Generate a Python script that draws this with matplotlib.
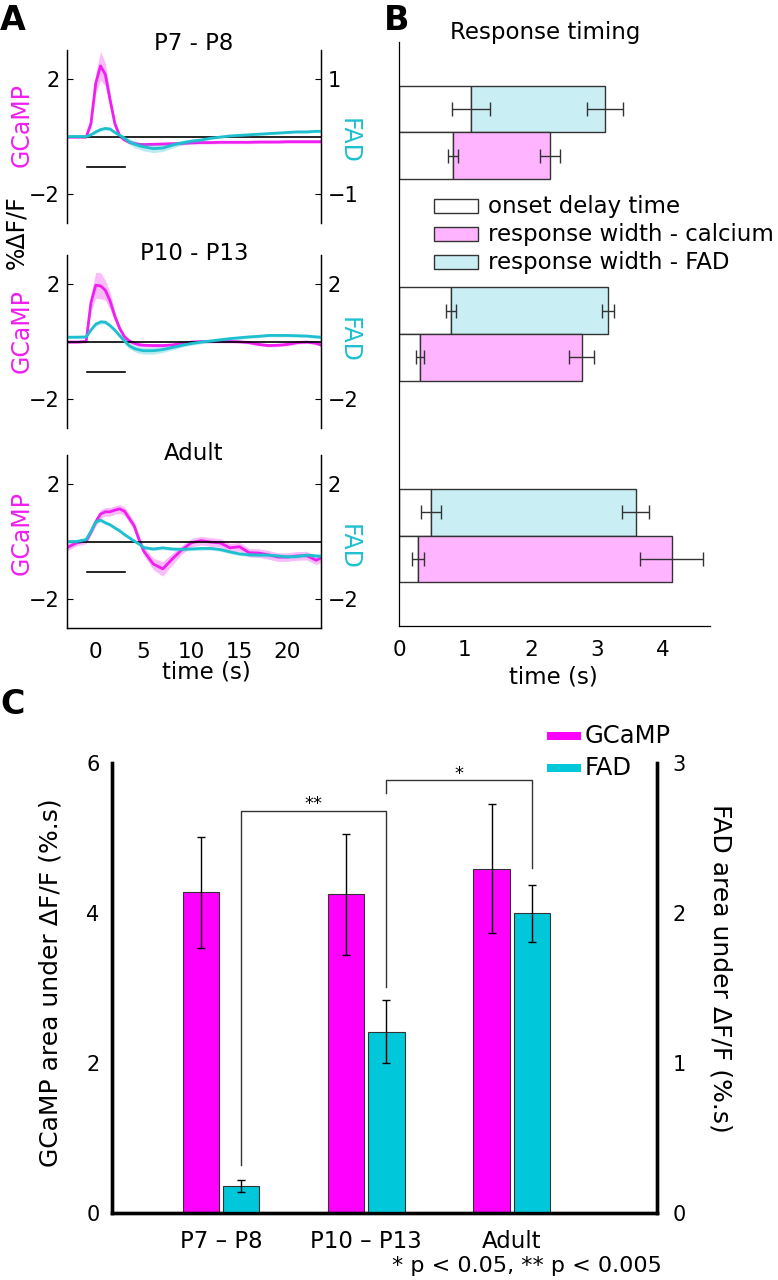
import numpy as np
import matplotlib
matplotlib.use('Agg')
import matplotlib.pyplot as plt
from matplotlib.patches import Rectangle

plt.rcParams['font.family'] = ['DejaVu Sans']
plt.rcParams['axes.linewidth'] = 0.9

# ---------------- data ----------------
# Panel A: mean traces (time in s), GCaMP on left axis, FAD on right axis
time_s = [-3, -2, -1, -0.5, 0, 0.5, 1, 1.5, 2, 2.5, 3, 3.5, 4, 4.5, 5,
          6, 7, 8, 9, 10, 11, 12, 13, 14, 15, 16, 17, 18, 19, 20, 21, 22, 23, 23.5]

gcamp_p7 = [-0.02, -0.02, -0.02, 0.45, 1.85, 2.45, 2.15, 1.26, 0.44, 0.02,
            -0.12, -0.2, -0.24, -0.27, -0.28,
            -0.27, -0.26, -0.25, -0.24, -0.22, -0.21, -0.21, -0.2, -0.2, -0.2,
            -0.2, -0.19, -0.19, -0.19, -0.18, -0.18, -0.18, -0.18, -0.18]
gcamp_p7_sem = [0.04, 0.04, 0.04, 0.15, 0.35, 0.5, 0.4, 0.25, 0.12, 0.08,
                0.06, 0.06, 0.06, 0.06, 0.06,
                0.05, 0.05, 0.05, 0.05, 0.05, 0.05, 0.05, 0.05, 0.05, 0.05,
                0.05, 0.05, 0.05, 0.05, 0.05, 0.05, 0.05, 0.05, 0.05]
fad_p7 = [0.0, 0.0, 0.0, 0.03, 0.08, 0.12, 0.14, 0.13, 0.07, 0.02,
          -0.03, -0.09, -0.13, -0.16, -0.18,
          -0.21, -0.2, -0.15, -0.11, -0.08, -0.06, -0.03, -0.01, 0.01, 0.02,
          0.03, 0.04, 0.05, 0.06, 0.07, 0.08, 0.08, 0.09, 0.09]
fad_p7_sem = [0.02, 0.02, 0.02, 0.02, 0.03, 0.03, 0.03, 0.03, 0.03, 0.03,
              0.04, 0.05, 0.06, 0.06, 0.07,
              0.07, 0.06, 0.05, 0.04, 0.03, 0.03, 0.02, 0.02, 0.02, 0.02,
              0.02, 0.02, 0.02, 0.02, 0.02, 0.02, 0.02, 0.02, 0.02]

gcamp_p10 = [-0.02, -0.02, 0.0, 1.35, 1.95, 1.93, 1.78, 1.4, 0.87, 0.45,
             0.16, 0.02, -0.06, -0.11, -0.13,
             -0.14, -0.14, -0.12, -0.07, -0.02, 0.0, 0.0, 0.0, 0.0, -0.01,
             -0.04, -0.1, -0.14, -0.13, -0.1, -0.04, -0.02, -0.06, -0.12]
gcamp_p10_sem = [0.05, 0.05, 0.05, 0.3, 0.45, 0.45, 0.35, 0.3, 0.15, 0.1,
                 0.08, 0.07, 0.06, 0.06, 0.06,
                 0.06, 0.06, 0.06, 0.05, 0.05, 0.05, 0.05, 0.05, 0.05, 0.05,
                 0.05, 0.05, 0.05, 0.05, 0.05, 0.05, 0.05, 0.05, 0.05]
fad_p10 = [0.15, 0.15, 0.16, 0.4, 0.6, 0.68, 0.67, 0.55, 0.39, 0.2,
           0.02, -0.15, -0.24, -0.29, -0.32,
           -0.32, -0.28, -0.21, -0.13, -0.07, -0.02, 0.02, 0.06, 0.1, 0.13,
           0.16, 0.18, 0.21, 0.21, 0.21, 0.2, 0.19, 0.16, 0.15]
fad_p10_sem = [0.05, 0.05, 0.05, 0.06, 0.07, 0.07, 0.07, 0.07, 0.07, 0.08,
               0.09, 0.1, 0.11, 0.12, 0.12,
               0.12, 0.1, 0.08, 0.07, 0.06, 0.06, 0.05, 0.05, 0.05, 0.05,
               0.05, 0.05, 0.05, 0.05, 0.05, 0.05, 0.05, 0.05, 0.05]

gcamp_adult = [-0.21, -0.05, 0.02, 0.33, 0.68, 0.95, 1.03, 1.03, 1.09, 1.13,
               1.05, 0.8, 0.55, 0.08, -0.33,
               -0.78, -0.95, -0.6, -0.28, -0.04, 0.03, -0.02, -0.05, -0.22, -0.18,
               -0.39, -0.4, -0.46, -0.54, -0.54, -0.5, -0.49, -0.65, -0.57]
gcamp_adult_sem = [0.12, 0.1, 0.1, 0.12, 0.15, 0.15, 0.15, 0.15, 0.15, 0.15,
                   0.15, 0.15, 0.15, 0.15, 0.15,
                   0.2, 0.25, 0.2, 0.15, 0.15, 0.15, 0.15, 0.15, 0.15, 0.15,
                   0.15, 0.15, 0.15, 0.15, 0.15, 0.15, 0.15, 0.15, 0.15]
fad_adult = [0.0, 0.0, 0.07, 0.35, 0.68, 0.74, 0.65, 0.58, 0.47, 0.37,
             0.24, 0.13, 0.02, -0.08, -0.21,
             -0.26, -0.22, -0.26, -0.27, -0.26, -0.24, -0.24, -0.28, -0.36, -0.43,
             -0.46, -0.47, -0.47, -0.5, -0.53, -0.52, -0.47, -0.5, -0.51]
fad_adult_sem = [0.06, 0.06, 0.06, 0.06, 0.06, 0.06, 0.06, 0.06, 0.06, 0.06,
                 0.06, 0.06, 0.06, 0.06, 0.06,
                 0.06, 0.06, 0.06, 0.06, 0.06, 0.06, 0.06, 0.06, 0.06, 0.06,
                 0.06, 0.06, 0.06, 0.06, 0.06, 0.06, 0.06, 0.06, 0.06]

age_titles = ['P7 - P8', 'P10 - P13', 'Adult']
fad_limits = [1.5, 3, 3]
fad_ticks = [[-1, 1], [-2, 2], [-2, 2]]
stim_window = [-0.9, 3.1]

# Panel B: response timing (s), groups top to bottom
onset_ca = [0.82, 0.315, 0.29]
onset_ca_err = [0.08, 0.06, 0.09]
width_ca = [1.47, 2.455, 3.85]
width_ca_err = [0.15, 0.19, 0.48]
onset_fad = [1.09, 0.79, 0.49]
onset_fad_err = [0.29, 0.08, 0.15]
width_fad = [2.04, 2.38, 3.10]
width_fad_err = [0.27, 0.09, 0.20]

# Panel C: area under dF/F
groups = ['P7 \u2013 P8', 'P10 \u2013 P13', 'Adult']
gcamp_area = [4.28, 4.25, 4.59]
gcamp_area_err = [0.74, 0.81, 0.86]
fad_area = [0.18, 1.21, 2.0]
fad_area_err = [0.04, 0.21, 0.19]

# ---------------- style ----------------
W, H = 778, 1280
MAG = '#f01ef0'
CYAN = '#1ec0d0'
MAG_BAR = '#ff00ff'
CYAN_BAR = '#00c8da'
PINK = '#ffb4ff'
LBLUE = '#c9eef4'
EDGE = '#333333'


def box(l, t, r, b):
    return [l / W, 1 - b / H, (r - l) / W, (b - t) / H]


def fx(x):
    return x / W


def fy(y):
    return 1 - y / H


fig = plt.figure(figsize=(W / 100, H / 100), dpi=100)

# ---------------- panel A ----------------
traces = [
    (gcamp_p7, gcamp_p7_sem, fad_p7, fad_p7_sem),
    (gcamp_p10, gcamp_p10_sem, fad_p10, fad_p10_sem),
    (gcamp_adult, gcamp_adult_sem, fad_adult, fad_adult_sem),
]
tops = [50, 255, 455]
title_y = [43, 254, 454]
gcamp_lab_y = [125, 331, 533]
fad_lab_y = [141, 340, 547]
t = np.array(time_s)

for i, (g, gs, f, fs) in enumerate(traces):
    g, gs, f, fs = map(np.array, (g, gs, f, fs))
    ax = fig.add_axes(box(67, tops[i], 321, tops[i] + 173))
    ax.fill_between(t, g - gs, g + gs, color=MAG, alpha=0.3, lw=0)
    ax.plot(t, g, color=MAG, lw=2.0)
    ax.axhline(0, color='black', lw=1.2, zorder=3)
    ax.plot(stim_window, [-1.05, -1.05], color='black', lw=1.2)
    ax.set_xlim(-3, 23.5)
    ax.set_ylim(-3, 3)
    ax.set_yticks([-2, 2])
    ax.spines['top'].set_visible(False)
    ax.tick_params(axis='y', direction='in', length=4, labelsize=15, pad=5)

    ax2 = ax.twinx()
    ax2.fill_between(t, f - fs, f + fs, color=CYAN, alpha=0.3, lw=0)
    ax2.plot(t, f, color=CYAN, lw=2.0)
    ax2.set_ylim(-fad_limits[i], fad_limits[i])
    ax2.set_yticks(fad_ticks[i])
    ax2.spines['top'].set_visible(False)
    ax2.tick_params(axis='y', direction='in', length=4, labelsize=15, pad=5)

    if i < 2:
        for a in (ax, ax2):
            a.spines['bottom'].set_visible(False)
        ax.set_xticks([])
    else:
        ax.set_xticks([0, 5, 10, 15, 20])
        ax.tick_params(axis='x', direction='in', length=0, labelsize=15.5, pad=10)

    fig.text(fx(194), fy(title_y[i]), age_titles[i], ha='center', va='center',
             fontsize=16.5)
    fig.text(fx(22), fy(gcamp_lab_y[i]), 'GCaMP', rotation=90, ha='center',
             va='center', fontsize=17, color=MAG)
    fig.text(fx(349), fy(fad_lab_y[i]), 'FAD', rotation=270, ha='center',
             va='center', fontsize=17, color=CYAN)

fig.text(fx(16), fy(232), '%\u0394F/F', rotation=90, ha='center', va='center',
         fontsize=17)
fig.text(fx(206), fy(672), 'time (s)', ha='center', va='center', fontsize=16.5)

# ---------------- panel B ----------------
axb = fig.add_axes(box(399, 42, 710, 626))
yb = np.arange(3)
hb = 0.231
off = hb / 2
on_ca, on_fad = np.array(onset_ca), np.array(onset_fad)
w_ca, w_fad = np.array(width_ca), np.array(width_fad)

axb.barh(yb - off, on_fad, height=hb, color='white', edgecolor=EDGE, lw=1)
axb.barh(yb - off, w_fad, left=on_fad, height=hb, color=LBLUE, edgecolor=EDGE, lw=1)
axb.barh(yb + off, on_ca, height=hb, color='white', edgecolor=EDGE, lw=1)
axb.barh(yb + off, w_ca, left=on_ca, height=hb, color=PINK, edgecolor=EDGE, lw=1)

ekw = dict(fmt='none', ecolor=EDGE, elinewidth=1, capsize=4.7, capthick=1)
axb.errorbar(on_fad, yb - off, xerr=onset_fad_err, **ekw)
axb.errorbar(on_fad + w_fad, yb - off, xerr=width_fad_err, **ekw)
axb.errorbar(on_ca, yb + off, xerr=onset_ca_err, **ekw)
axb.errorbar(on_ca + w_ca, yb + off, xerr=width_ca_err, **ekw)

axb.set_xlim(0, 4.72)
axb.set_ylim(2.447, -0.447)
axb.set_yticks([])
axb.set_xticks([0, 1, 2, 3, 4])
axb.tick_params(axis='x', length=0, labelsize=15.5, pad=10)
for s in ('top', 'right'):
    axb.spines[s].set_visible(False)

fig.text(fx(545), fy(33), 'Response timing', ha='center', va='center', fontsize=16.5)
fig.text(fx(553), fy(677), 'time (s)', ha='center', va='center', fontsize=16.5)

leg_items = [('white', 'onset delay time'),
             (PINK, 'response width - calcium'),
             (LBLUE, 'response width - FAD')]
for k, (c, lab) in enumerate(leg_items):
    yc = 206 + 28 * k
    fig.patches.append(Rectangle((fx(434), fy(yc + 7)), 44 / W, 14 / H,
                                 transform=fig.transFigure, facecolor=c,
                                 edgecolor=EDGE, lw=1))
    fig.text(fx(488), fy(yc), lab, ha='left', va='center', fontsize=16.5)

# ---------------- panel C ----------------
axc = fig.add_axes(box(112, 763, 657, 1213))
xg = np.arange(1, 4)
bw = 0.25
d = 0.138
bkw = dict(elinewidth=1, capthick=1, ecolor='black')
axc.bar(xg - d, gcamp_area, bw, yerr=gcamp_area_err, color=MAG_BAR,
        edgecolor=EDGE, lw=0.8, capsize=3.2, error_kw=bkw)
axc.set_xlim(0.25, 4.0)
axc.set_ylim(0, 6)
axc.set_yticks([0, 2, 4, 6])
axc.set_xticks(xg)
axc.set_xticklabels(groups)
axc.tick_params(axis='y', length=0, labelsize=15, pad=9)
axc.tick_params(axis='x', length=0, labelsize=16.5, pad=12)
axc.spines['top'].set_visible(False)

axc2 = axc.twinx()
axc2.bar(xg + d, fad_area, bw, yerr=fad_area_err, color=CYAN_BAR,
         edgecolor=EDGE, lw=0.8, capsize=3.2, error_kw=bkw)
axc2.set_ylim(0, 3)
axc2.set_yticks([0, 1, 2, 3])
axc2.tick_params(axis='y', length=0, labelsize=15, pad=11)
axc2.spines['top'].set_visible(False)
for a in (axc, axc2):
    for s in ('left', 'right', 'bottom'):
        a.spines[s].set_linewidth(2.4)

# significance brackets (left-axis units)
sig_left = [1 + d, 2 + d]
sig_right = [2 + d, 3 + d]
sig_top = [5.36, 5.77]
sig_left_end = [0.64, 5.6]
sig_right_end = [3.01, 4.6]
sig_marks = ['**', '*']
for x1, x2, yt, y1, y2, m in zip(sig_left, sig_right, sig_top,
                                 sig_left_end, sig_right_end, sig_marks):
    axc.plot([x1, x1, x2, x2], [y1, yt, yt, y2], color=EDGE, lw=1, clip_on=False)
    axc.text((x1 + x2) / 2, yt + 0.02, m, ha='center', va='baseline', fontsize=13)

axc.set_ylabel('')
fig.text(fx(51), fy(983), 'GCaMP area under \u0394F/F (%.s)', rotation=90,
         ha='center', va='center', fontsize=18)
fig.text(fx(720), fy(968), 'FAD area under \u0394F/F (%.s)', rotation=270,
         ha='center', va='center', fontsize=18)

for k, (c, lab) in enumerate([(MAG_BAR, 'GCaMP'), (CYAN_BAR, 'FAD')]):
    yc = 736 + 32 * k
    fig.patches.append(Rectangle((fx(547), fy(yc + 4)), 34 / W, 8 / H,
                                 transform=fig.transFigure, facecolor=c, lw=0))
    fig.text(fx(585), fy(yc), lab, ha='left', va='center', fontsize=17.5)

fig.text(fx(662), fy(1266), '* p < 0.05, ** p < 0.005', ha='right', va='center',
         fontsize=16)

# panel letters
for lab, x, y in [('A', 0, 21), ('B', 384, 21), ('C', 0, 704)]:
    fig.text(fx(x), fy(y), lab, ha='left', va='center', fontsize=24,
             fontweight='bold')

fig.savefig('out.png', dpi=100)
